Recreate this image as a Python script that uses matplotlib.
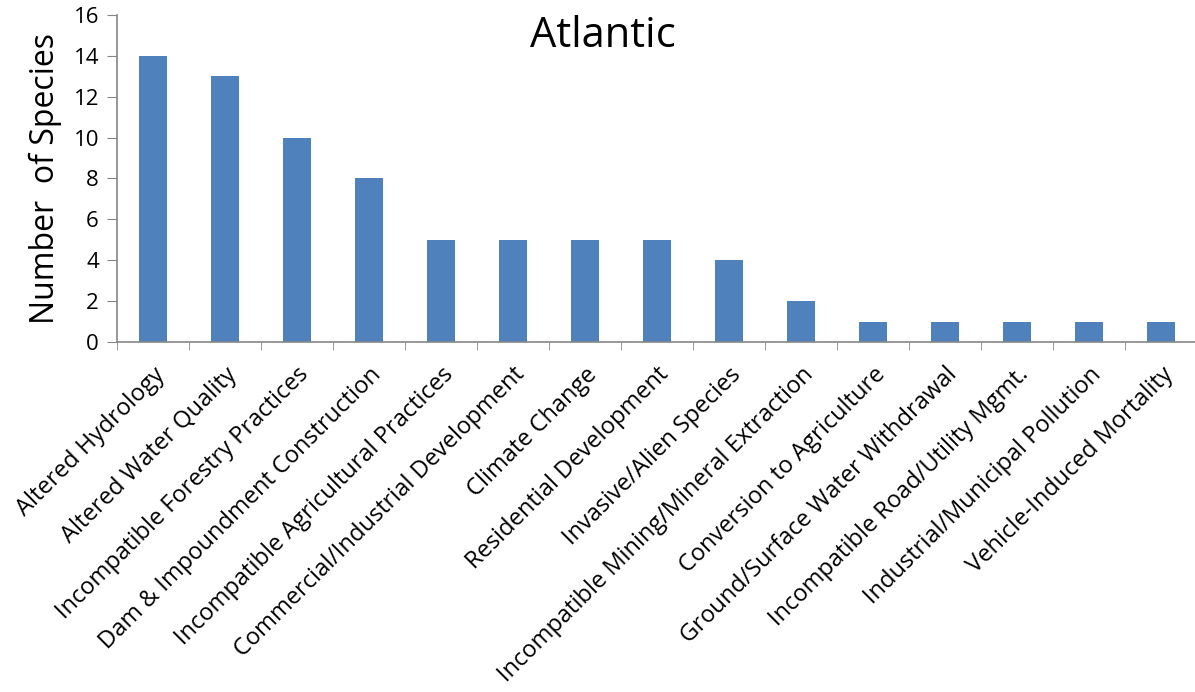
import matplotlib
matplotlib.use("Agg")
import matplotlib.pyplot as plt
from matplotlib.ticker import FixedLocator

categories = ["Altered Hydrology", "Altered Water Quality", "Incompatible Forestry Practices",
              "Dam & Impoundment Construction", "Incompatible Agricultural Practices",
              "Commercial/Industrial Development", "Climate Change", "Residential Development",
              "Invasive/Alien Species", "Incompatible Mining/Mineral Extraction",
              "Conversion to Agriculture", "Ground/Surface Water Withdrawal",
              "Incompatible Road/Utility Mgmt.", "Industrial/Municipal Pollution",
              "Vehicle-Induced Mortality"]
values = [14, 13, 10, 8, 5, 5, 5, 5, 4, 2, 1, 1, 1, 1, 1]
yticks = [0, 2, 4, 6, 8, 10, 12, 14, 16]

plt.rcParams['font.family'] = ['Open Sans', 'DejaVu Sans']

fig = plt.figure(figsize=(11.95, 6.92), dpi=100)
ax = fig.add_axes([117/1195, 1-342/692, 1080/1195, (342-15)/692])
x = list(range(len(categories)))
ax.bar(x, values, width=0.40, color="#4F81BD")
ax.set_xlim(-0.5, len(categories)-0.5)
ax.set_ylim(0, 16)
ax.set_yticks(yticks)
ax.tick_params(axis='y', labelsize=16, direction='out', length=7, color='#868686', pad=6)
ax.set_xticks(x)
ax.set_xticklabels(categories, rotation=45, ha='right', rotation_mode='anchor', fontsize=17)
ax.tick_params(axis='x', length=0, pad=15)
ax.xaxis.set_minor_locator(FixedLocator([i - 0.5 for i in range(len(categories))]))
ax.tick_params(axis='x', which='minor', direction='out', length=6, color='#868686')
for s in ['top', 'right']:
    ax.spines[s].set_visible(False)
for s in ['left', 'bottom']:
    ax.spines[s].set_color('#868686')
    ax.spines[s].set_linewidth(1.2)
ax.set_ylabel("Number  of Species", fontsize=23, labelpad=8)
ax.text(0.45, 0.936, "Atlantic", transform=ax.transAxes, fontsize=30, ha='center', va='center')
fig.savefig("out.png", dpi=100)
